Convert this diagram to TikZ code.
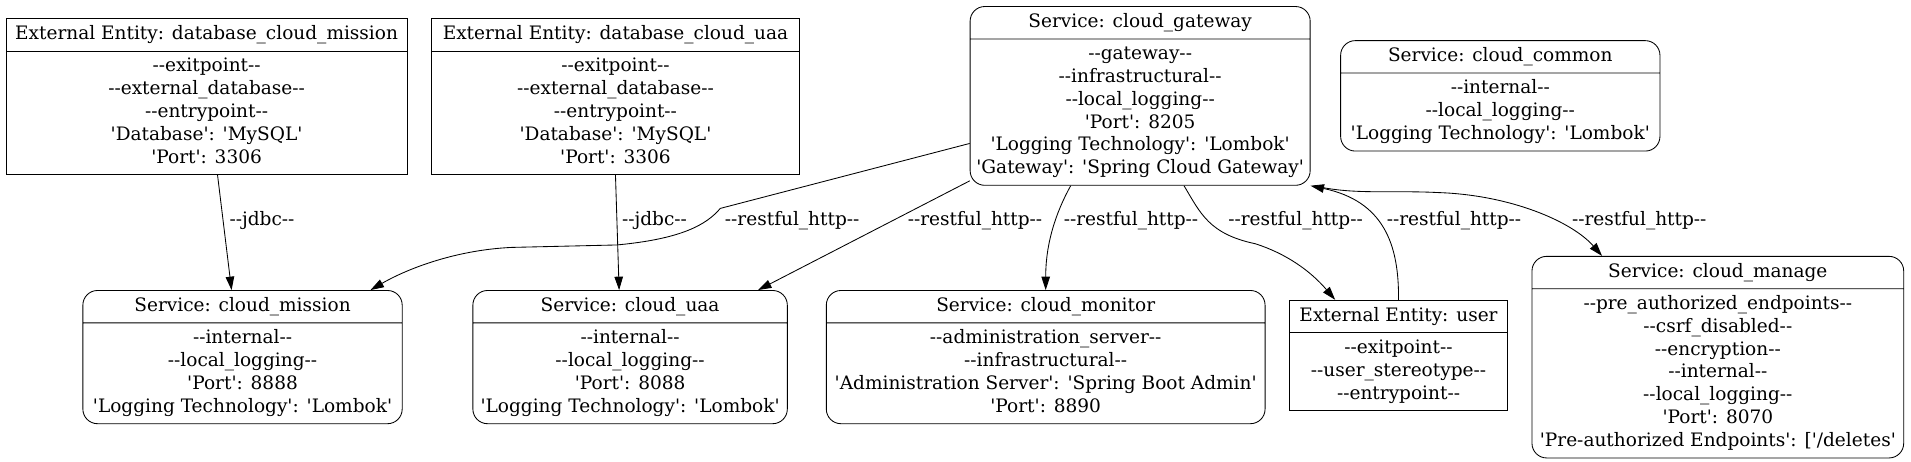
\documentclass[tikz,border=0pt]{standalone}
\usepackage{fontspec}
\newfontfamily\gvfont{DejaVu Serif}
\usetikzlibrary{shapes.multipart,arrows.meta}

\begin{document}
\begin{tikzpicture}[
    x=1pt, y=-1pt,
    every node/.style={font=\gvfont\fontsize{15.2}{18.7}\selectfont},
    entity/.style={rectangle split, rectangle split parts=2, draw, line width=0.7pt, align=center, inner xsep=4pt, inner ysep=3.6pt, anchor=north},
    service/.style={entity, rounded corners=12pt},
    flow/.style={-{Triangle[length=11pt,width=7pt]}, line width=0.7pt},
    lbl/.style={inner sep=0pt}
]
    \useasboundingbox (0,0) rectangle (1568,379);

    % External entities
    \node[entity, minimum width=329pt] (dbm) at (169.5,15) {\strut External Entity: database\_cloud\_mission\nodepart{two}\strut --exitpoint--\\--external\_database--\\--entrypoint--\\'Database': 'MySQL'\\'Port': 3306\strut};
    \node[entity, minimum width=302pt] (dbu) at (505,15) {\strut External Entity: database\_cloud\_uaa\nodepart{two}\strut --exitpoint--\\--external\_database--\\--entrypoint--\\'Database': 'MySQL'\\'Port': 3306\strut};
    \node[entity, minimum width=179pt] (user) at (1147.5,246) {\strut External Entity: user\nodepart{two}\strut --exitpoint--\\--user\_stereotype--\\--entrypoint--\strut};

    % Services
    \node[service, minimum width=279pt] (gw) at (935.5,5) {\strut Service: cloud\_gateway\nodepart{two}\strut --gateway--\\--infrastructural--\\--local\_logging--\\'Port': 8205\\'Logging Technology': 'Lombok'\\'Gateway': 'Spring Cloud Gateway'\strut};
    \node[service, minimum width=262pt] (common) at (1231,33) {\strut Service: cloud\_common\nodepart{two}\strut --internal--\\--local\_logging--\\'Logging Technology': 'Lombok'\strut};
    \node[service, minimum width=262pt] (mission) at (199,238) {\strut Service: cloud\_mission\nodepart{two}\strut --internal--\\--local\_logging--\\'Port': 8888\\'Logging Technology': 'Lombok'\strut};
    \node[service, minimum width=258pt] (uaa) at (517,238) {\strut Service: cloud\_uaa\nodepart{two}\strut --internal--\\--local\_logging--\\'Port': 8088\\'Logging Technology': 'Lombok'\strut};
    \node[service, minimum width=360pt] (monitor) at (858,238) {\strut Service: cloud\_monitor\nodepart{two}\strut --administration\_server--\\--infrastructural--\\'Administration Server': 'Spring Boot Admin'\\'Port': 8890\strut};
    \node[service, minimum width=305pt] (manage) at (1409.5,210) {\strut Service: cloud\_manage\nodepart{two}\strut --pre\_authorized\_endpoints--\\--csrf\_disabled--\\--encryption--\\--internal--\\--local\_logging--\\'Port': 8070\\'Pre-authorized Endpoints': ['/deletes'\strut};

    % Connections
    \draw[flow] ([xshift=9pt]dbm.south) -- ([xshift=-9pt]mission.north) node[lbl] at (215,181) {--jdbc--};
    \draw[flow] (dbu.south) -- ([xshift=-9pt]uaa.north) node[lbl] at (537,181) {--jdbc--};
    \draw[flow] ([yshift=-39pt]gw.west) -- (591,171) .. controls (580,184) and (560,196) .. (506,201) -- (420,203) .. controls (375,205) and (335,220) .. ([xshift=105pt]mission.north) node[lbl] at (650,181) {--restful\_http--};
    \draw[flow] ([yshift=4pt]gw.south west) -- ([xshift=105pt]uaa.north) node[lbl] at (800,181) {--restful\_http--};
    \draw[flow] ([xshift=-57pt]gw.south) .. controls (866,175) and (858,200) .. (monitor.north) node[lbl] at (928,181) {--restful\_http--};
    \draw[flow] ([xshift=36pt]gw.south) .. controls (985,175) and (992,192) .. (1030,200) .. controls (1055,208) and (1075,222) .. ([xshift=-52pt]user.north) node[lbl] at (1063,181) {--restful\_http--};
    \draw[flow] (user.north) .. controls (1148,200) and (1135,165) .. (gw.south east) node[lbl] at (1193,181) {--restful\_http--};
    \draw[flow] ([xshift=3pt]gw.south east) .. controls (1110,160) and (1140,156) .. (1180,158) .. controls (1240,160) and (1290,182) .. ([xshift=-95pt]manage.north) node[lbl] at (1345,181) {--restful\_http--};
\end{tikzpicture}
\end{document}
